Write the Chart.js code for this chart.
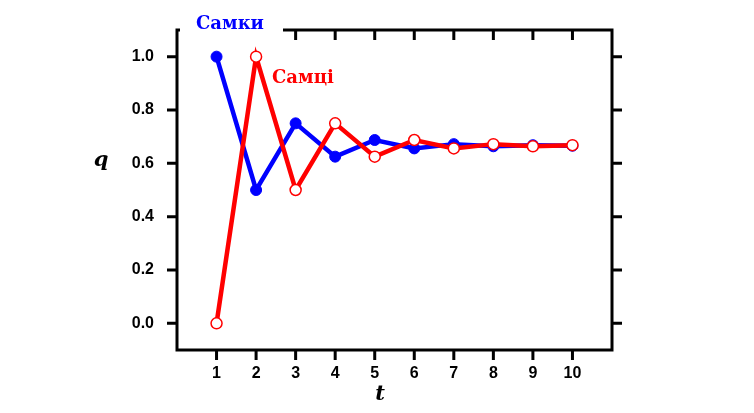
<!DOCTYPE html>
<html lang="uk">
<head>
<meta charset="UTF-8">
<title>q(t)</title>
<script src="https://cdn.jsdelivr.net/npm/chart.js"></script>
<style>
  html, body { margin: 0; padding: 0; background: #fff; }
  #wrap { width: 754px; height: 413px; }
</style>
</head>
<body>
<div id="wrap"><canvas id="chart"></canvas></div>
<script>
// покоління
const generations = [1, 2, 3, 4, 5, 6, 7, 8, 9, 10];
// частота q у самок і самців
const females = [1.0, 0.5, 0.75, 0.625, 0.6875, 0.656, 0.672, 0.664, 0.668, 0.666];
const males   = [0.0, 1.0, 0.5, 0.75, 0.625, 0.6875, 0.656, 0.672, 0.664, 0.668];
const yTicks = [0.0, 0.2, 0.4, 0.6, 0.8, 1.0];
const xTicks = generations;

const tickFont = { family: 'Liberation Sans', size: 16, weight: 'bold' };

// рамка, зовнішні/внутрішні риски, підписи осей і серій
const framePlugin = {
    id: 'frame',
    afterDraw(chart) {
        const { ctx, chartArea: a, scales: { x, y } } = chart;
        ctx.save();
        ctx.strokeStyle = '#000';
        ctx.lineWidth = 3;
        ctx.strokeRect(a.left, a.top, a.right - a.left, a.bottom - a.top);
        ctx.beginPath();
        xTicks.forEach(v => {
            const px = x.getPixelForValue(v);
            ctx.moveTo(px, a.bottom); ctx.lineTo(px, a.bottom + 10);
            ctx.moveTo(px, a.top); ctx.lineTo(px, a.top + 10);
        });
        yTicks.forEach(v => {
            const py = y.getPixelForValue(v);
            ctx.moveTo(a.left, py); ctx.lineTo(a.left - 10, py);
            ctx.moveTo(a.right, py); ctx.lineTo(a.right + 10, py);
        });
        ctx.stroke();

        // підпис «Самки» на білому тлі поверх рамки
        ctx.fillStyle = '#fff';
        ctx.fillRect(a.left + 3, 0, 103, a.top + 12);
        ctx.font = 'bold 18px "DejaVu Serif"';
        ctx.textBaseline = 'alphabetic';
        ctx.textAlign = 'left';
        ctx.fillStyle = '#0000ff';
        ctx.fillText('Самки', 196, 29);
        ctx.fillStyle = '#ff0000';
        ctx.fillText('Самці', 272, 83);

        ctx.fillStyle = '#000';
        ctx.textAlign = 'center';
        ctx.textBaseline = 'middle';
        ctx.font = 'italic bold 21px "DejaVu Serif"';
        ctx.fillText('q', 101, 161);
        ctx.fillText('t', 380, 395);
        ctx.restore();
    }
};

new Chart(document.getElementById('chart'), {
    type: 'line',
    data: {
        datasets: [
            {
                label: 'Самці',
                data: generations.map((g, i) => ({ x: g, y: males[i] })),
                borderColor: '#ff0000',
                borderWidth: 4.5,
                pointBackgroundColor: '#ffffff',
                pointBorderColor: '#ff0000',
                pointBorderWidth: 1.5,
                pointRadius: 5.5,
                order: 1
            },
            {
                label: 'Самки',
                data: generations.map((g, i) => ({ x: g, y: females[i] })),
                borderColor: '#0000ff',
                borderWidth: 4.5,
                pointBackgroundColor: '#0000ff',
                pointBorderColor: '#0000ff',
                pointBorderWidth: 1,
                pointRadius: 5.5,
                order: 2
            }
        ]
    },
    options: {
        responsive: true,
        maintainAspectRatio: false,
        animation: false,
        layout: { padding: { top: 30, right: 142, left: 0, bottom: 0 } },
        plugins: { legend: { display: false }, tooltip: { enabled: false } },
        scales: {
            x: {
                type: 'linear', min: 0, max: 11,
                afterBuildTicks: s => { s.ticks = xTicks.map(v => ({ value: v })); },
                afterFit: s => { s.height = 63; },
                grid: { display: false },
                border: { display: false },
                ticks: { color: '#000', font: tickFont, padding: 6, maxRotation: 0 }
            },
            y: {
                min: -0.1, max: 1.1,
                afterBuildTicks: s => { s.ticks = yTicks.map(v => ({ value: v })); },
                afterFit: s => { s.width = 177; },
                grid: { display: false },
                border: { display: false },
                ticks: { color: '#000', font: tickFont, padding: 15, callback: v => v.toFixed(1) }
            }
        }
    },
    plugins: [framePlugin]
});
</script>
</body>
</html>
